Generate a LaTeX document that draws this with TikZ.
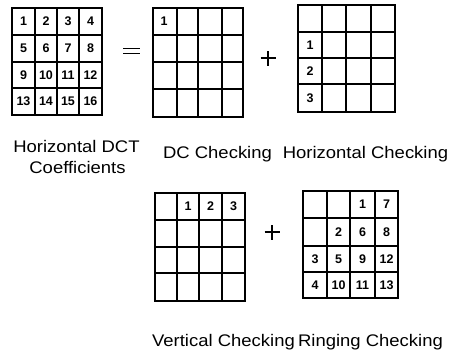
\documentclass[tikz,border=0pt]{standalone}
\usepackage{fontspec}
\usepackage{graphicx}
\setmainfont{Liberation Sans}

\tikzset{
  gridline/.style={line width=1.1pt, line cap=rect},
  num/.style={inner sep=0pt, font=\fontsize{12.5}{13}\selectfont\bfseries},
  caption/.style={inner sep=0pt, anchor=base, font=\fontsize{16.8}{18}\selectfont},
  opbar/.style={line width=2.6pt},
}
% horizontally widened caption text
\newcommand\widetext[1]{\scalebox{1.1}[1]{#1}}
% 4x4 block: left, right, top, bottom, inner x lines, inner y lines
\newcommand\blockgrid[6]{%
  \draw[gridline] (#1,#3) rectangle (#2,#4);
  \foreach \gx in {#5} \draw[gridline] (\gx,#3) -- (\gx,#4);
  \foreach \gy in {#6} \draw[gridline] (#1,\gy) -- (#2,\gy);
}

\begin{document}
\begin{tikzpicture}[x=1pt,y=-1pt]
\useasboundingbox (0,0) rectangle (457,351);

% ---- horizontal DCT coefficients ----
\blockgrid{12}{102}{8}{115}{35,57,79}{35,62,88}
\foreach \n/\cx/\cy in {1/23.5/21.5, 2/46/21.5, 3/68/21.5, 4/90.5/21.5,
                        5/23.5/48.5, 6/46/48.5, 7/68/48.5, 8/90.5/48.5,
                        9/23.5/75, 10/46/75, 11/68/75, 12/90.5/75,
                        13/23.5/101.5, 14/46/101.5, 15/68/101.5, 16/90.5/101.5}
  \node[num] (a\n) at (\cx,\cy) {\n};

% equals sign
\coordinate (eqL1) at (123,48.5); \coordinate (eqR1) at (140,48.5);
\coordinate (eqL2) at (123,53.5); \coordinate (eqR2) at (140,53.5);
\draw[opbar, line width=1.9pt] (eqL1) -- (eqR1);
\draw[opbar, line width=1.9pt] (eqL2) -- (eqR2);

% ---- DC checking ----
\blockgrid{153}{243}{8}{117}{177,198,222}{35,62,89}
\node[num] (b1) at (164,21.5) {1};

% plus sign
\coordinate (p1) at (268,58);
\draw[opbar] ([xshift=-7.5pt]p1) -- ([xshift=7.5pt]p1);
\draw[opbar] ([yshift=-7.5pt]p1) -- ([yshift=7.5pt]p1);

% ---- horizontal checking ----
\blockgrid{298}{395}{5}{112}{322,346,371}{32,58,84}
\node[num] (c1) at (310,45) {1};
\node[num] (c2) at (310,71) {2};
\node[num] (c3) at (310,98) {3};

% ---- vertical checking ----
\blockgrid{155}{245}{193}{301}{177,199,222}{220,247,273}
\node[num] (d1) at (188,206.5) {1};
\node[num] (d2) at (210.5,206.5) {2};
\node[num] (d3) at (233.5,206.5) {3};

% plus sign
\coordinate (p2) at (272,232);
\draw[opbar] ([xshift=-7.5pt]p2) -- ([xshift=7.5pt]p2);
\draw[opbar] ([yshift=-7.5pt]p2) -- ([yshift=7.5pt]p2);

% ---- ringing checking ----
\blockgrid{303}{398}{191}{298}{327,350,375}{218,246,272}
\foreach \n/\cx/\cy in {1/362.5/204.5, 7/386.5/204.5,
                        2/338.5/232, 6/362.5/232, 8/386.5/232,
                        3/315/259, 5/338.5/259, 9/362.5/259, 12/386.5/259,
                        4/315/285, 10/338.5/285, 11/362.5/285, 13/386.5/285}
  \node[num] (e\n) at (\cx,\cy) {\n};

% ---- captions ----
\node[caption] (capA1) at (76.5,152) {\widetext{Horizontal DCT}};
\node[caption] (capA2) at (77.5,173) {\widetext{Coefficients}};
\node[caption] (capB)  at (217.5,158) {\widetext{DC Checking}};
\node[caption] (capC)  at (365.5,158) {\widetext{Horizontal Checking}};
\node[caption] (capD)  at (223.5,346) {\widetext{Vertical Checking}};
\node[caption] (capE)  at (370.5,346) {\widetext{Ringing Checking}};
\end{tikzpicture}
\end{document}
